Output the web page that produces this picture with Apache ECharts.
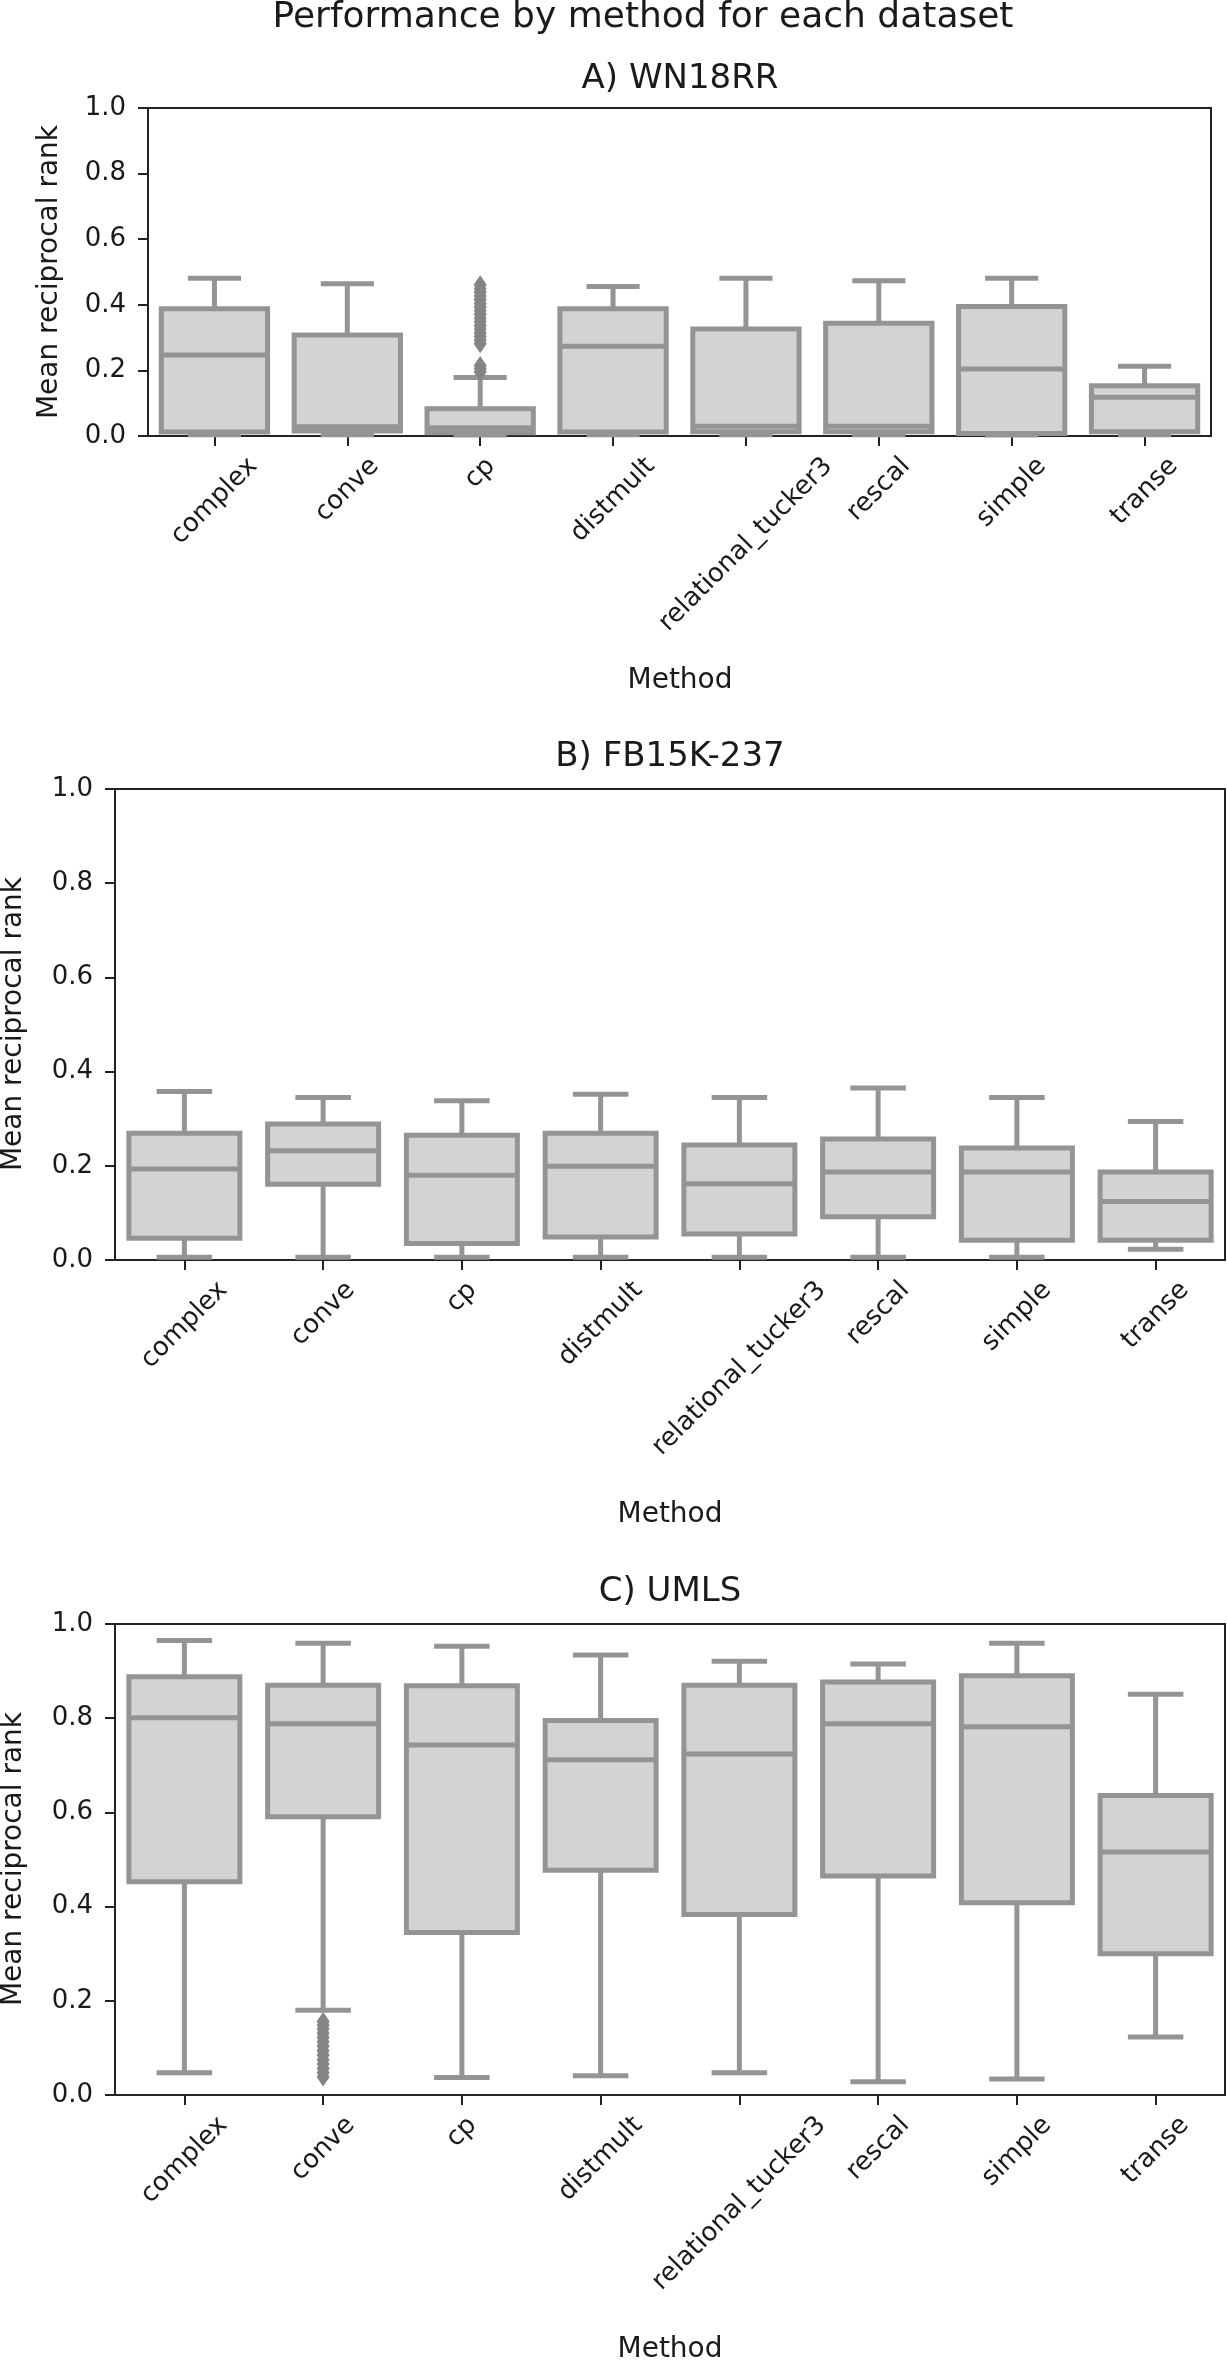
<!DOCTYPE html>
<html><head><meta charset="utf-8">
<script src="https://cdn.jsdelivr.net/npm/echarts@6/dist/echarts.min.js"></script>
<style>html,body{margin:0;padding:0;background:#fff}#c{width:1227px;height:2362px}</style>
</head><body><div id="c"></div>
<script>
// ---------------- data ----------------
const categories = ['complex', 'conve', 'cp', 'distmult', 'relational_tucker3', 'rescal', 'simple', 'transe'];
const yTickLabels = ['0.0', '0.2', '0.4', '0.6', '0.8', '1.0'];
const panelTitles = ['A) WN18RR', 'B) FB15K-237', 'C) UMLS'];

// [lower whisker, Q1, median, Q3, upper whisker]
const wn18rrStats = [
  [0.004, 0.012, 0.247, 0.388, 0.481],
  [0.004, 0.015, 0.028, 0.308, 0.464],
  [0.003, 0.010, 0.025, 0.083, 0.178],
  [0.004, 0.012, 0.274, 0.388, 0.456],
  [0.004, 0.013, 0.030, 0.326, 0.481],
  [0.004, 0.013, 0.030, 0.344, 0.473],
  [0.003, 0.008, 0.204, 0.395, 0.481],
  [0.004, 0.013, 0.118, 0.153, 0.213]
];
const fb15kStats = [
  [0.006, 0.046, 0.193, 0.269, 0.358],
  [0.006, 0.161, 0.232, 0.289, 0.345],
  [0.006, 0.035, 0.180, 0.265, 0.338],
  [0.006, 0.049, 0.199, 0.269, 0.352],
  [0.006, 0.055, 0.162, 0.244, 0.345],
  [0.006, 0.092, 0.187, 0.257, 0.365],
  [0.006, 0.042, 0.187, 0.238, 0.345],
  [0.023, 0.042, 0.124, 0.187, 0.294]
];
const umlsStats = [
  [0.047, 0.453, 0.801, 0.888, 0.965],
  [0.180, 0.591, 0.788, 0.870, 0.959],
  [0.037, 0.345, 0.743, 0.869, 0.953],
  [0.041, 0.477, 0.712, 0.795, 0.934],
  [0.047, 0.383, 0.724, 0.870, 0.921],
  [0.028, 0.465, 0.788, 0.877, 0.915],
  [0.034, 0.408, 0.782, 0.890, 0.959],
  [0.123, 0.300, 0.516, 0.636, 0.851]
];
// outliers (fliers)
const wn18rrCpOutliers = [0.195, 0.205, 0.215, 0.281, 0.292, 0.303, 0.314, 0.326, 0.337, 0.348, 0.359, 0.371, 0.382, 0.393, 0.404, 0.416, 0.427, 0.438, 0.449, 0.461];
const umlsConveOutliers = [0.038, 0.047, 0.056, 0.066, 0.075, 0.085, 0.094, 0.104, 0.113, 0.122, 0.131, 0.140, 0.148, 0.156];

// ---------------- style ----------------
const FONT = '"DejaVu Sans", sans-serif';
const TXT = '#1a1a1a';
const LINE = '#949494';
const FILL = '#d3d3d3';
const FLIER = '#858585';
const TICK_FS = 26, LABEL_FS = 28, TITLE_FS = 34, SUP_FS = 36;

const grids = [
  {left: 148, top: 108, width: 1063, height: 328},
  {left: 115, top: 789, width: 1110, height: 471},
  {left: 115, top: 1624, width: 1110, height: 471}
];
const statsList = [wn18rrStats, fb15kStats, umlsStats];

const mctx = document.createElement('canvas').getContext('2d');
mctx.font = TICK_FS + 'px ' + FONT;

function renderBox(params, api) {
  const i = api.value(0);
  const band = api.size([1, 0])[0];
  const bw = band * 0.8, cw = band * 0.4;
  const pMin = api.coord([i, api.value(1)]);
  const pQ1 = api.coord([i, api.value(2)]);
  const pMed = api.coord([i, api.value(3)]);
  const pQ3 = api.coord([i, api.value(4)]);
  const pMax = api.coord([i, api.value(5)]);
  const x = pMed[0];
  const ls = {stroke: LINE, lineWidth: 5, lineCap: 'butt'};
  return {type: 'group', children: [
    {type: 'line', shape: {x1: x, y1: pQ3[1], x2: x, y2: pMax[1]}, style: ls},
    {type: 'line', shape: {x1: x, y1: pMin[1], x2: x, y2: pQ1[1]}, style: ls},
    {type: 'line', shape: {x1: x - cw / 2, y1: pMax[1], x2: x + cw / 2, y2: pMax[1]}, style: ls},
    {type: 'line', shape: {x1: x - cw / 2, y1: pMin[1], x2: x + cw / 2, y2: pMin[1]}, style: ls},
    {type: 'rect', shape: {x: x - bw / 2, y: pQ3[1], width: bw, height: pQ1[1] - pQ3[1]},
      style: {fill: FILL, stroke: LINE, lineWidth: 5, lineJoin: 'miter'}},
    {type: 'line', shape: {x1: x - bw / 2, y1: pMed[1], x2: x + bw / 2, y2: pMed[1]}, style: ls}
  ]};
}

function renderLabel(params, api) {
  const i = api.value(0);
  const p = api.coord([i, 0]);
  const text = categories[i];
  const L = mctx.measureText(text).width;
  const H = TICK_FS;
  const c = Math.SQRT1_2;
  return {type: 'text', x: p[0] + (L - H) * c / 2, y: p[1] + 17, rotation: Math.PI / 4,
    style: {text: text, fontSize: TICK_FS, fontFamily: FONT, fill: TXT, align: 'right', verticalAlign: 'top'}};
}

const xAxes = [], yAxes = [], series = [];
grids.forEach((g, k) => {
  xAxes.push({
    type: 'category', gridIndex: k, data: categories, boundaryGap: true,
    axisLine: {show: true, lineStyle: {color: '#222', width: 2}},
    axisTick: {show: true, alignWithLabel: true, interval: 0, length: 10, lineStyle: {color: '#222', width: 2}},
    axisLabel: {show: false, interval: 0},
    splitLine: {show: false}
  });
  yAxes.push({
    type: 'value', gridIndex: k, min: 0, max: 1, interval: 0.2,
    axisLine: {show: true, lineStyle: {color: '#222', width: 2}},
    axisTick: {show: true, length: 10, lineStyle: {color: '#222', width: 2}},
    axisLabel: {fontSize: TICK_FS, fontFamily: FONT, color: TXT, margin: 22,
      formatter: v => yTickLabels[Math.round(v / 0.2)]},
    splitLine: {show: false}
  });
  series.push({
    type: 'custom', xAxisIndex: k, yAxisIndex: k, clip: false, silent: true,
    renderItem: renderBox,
    encode: {x: 0, y: [1, 2, 3, 4, 5]},
    data: statsList[k].map((s, i) => [i].concat(s)),
    z: 2
  });
  series.push({
    type: 'custom', xAxisIndex: k, yAxisIndex: k, clip: false, silent: true,
    renderItem: renderLabel,
    encode: {x: 0},
    data: categories.map((c, i) => [i]),
    z: 3
  });
});
series.push({
  type: 'scatter', xAxisIndex: 0, yAxisIndex: 0, symbol: 'diamond', symbolSize: [13, 19],
  itemStyle: {color: FLIER, opacity: 1}, silent: true, z: 4,
  data: wn18rrCpOutliers.map(v => [categories.indexOf('cp'), v])
});
series.push({
  type: 'scatter', xAxisIndex: 2, yAxisIndex: 2, symbol: 'diamond', symbolSize: [13, 19],
  itemStyle: {color: FLIER, opacity: 1}, silent: true, z: 4,
  data: umlsConveOutliers.map(v => [categories.indexOf('conve'), v])
});

function txt(text, x, y, fs, rot) {
  return {type: 'text', x: x, y: y, rotation: rot || 0,
    style: {text: text, fontSize: fs, fontFamily: FONT, fill: TXT, align: 'center', verticalAlign: 'middle'}};
}
const graphics = [
  txt('Performance by method for each dataset', 643, 18, SUP_FS),
  txt(panelTitles[0], 680, 79, TITLE_FS),
  txt(panelTitles[1], 670, 757, TITLE_FS),
  txt(panelTitles[2], 670, 1592, TITLE_FS),
  txt('Method', 680, 681, LABEL_FS),
  txt('Method', 670, 1515, LABEL_FS),
  txt('Method', 670, 2350, LABEL_FS),
  txt('Mean reciprocal rank', 50, 272, LABEL_FS, Math.PI / 2),
  txt('Mean reciprocal rank', 14, 1024, LABEL_FS, Math.PI / 2),
  txt('Mean reciprocal rank', 14, 1859, LABEL_FS, Math.PI / 2)
];

const chart = echarts.init(document.getElementById('c'), null, {renderer: 'canvas'});
chart.setOption({
  animation: false,
  backgroundColor: '#fff',
  grid: grids.map(g => Object.assign({show: true, borderColor: '#222', borderWidth: 2, backgroundColor: 'transparent'}, g)),
  xAxis: xAxes,
  yAxis: yAxes,
  series: series,
  graphic: {elements: graphics}
});
</script></body></html>
